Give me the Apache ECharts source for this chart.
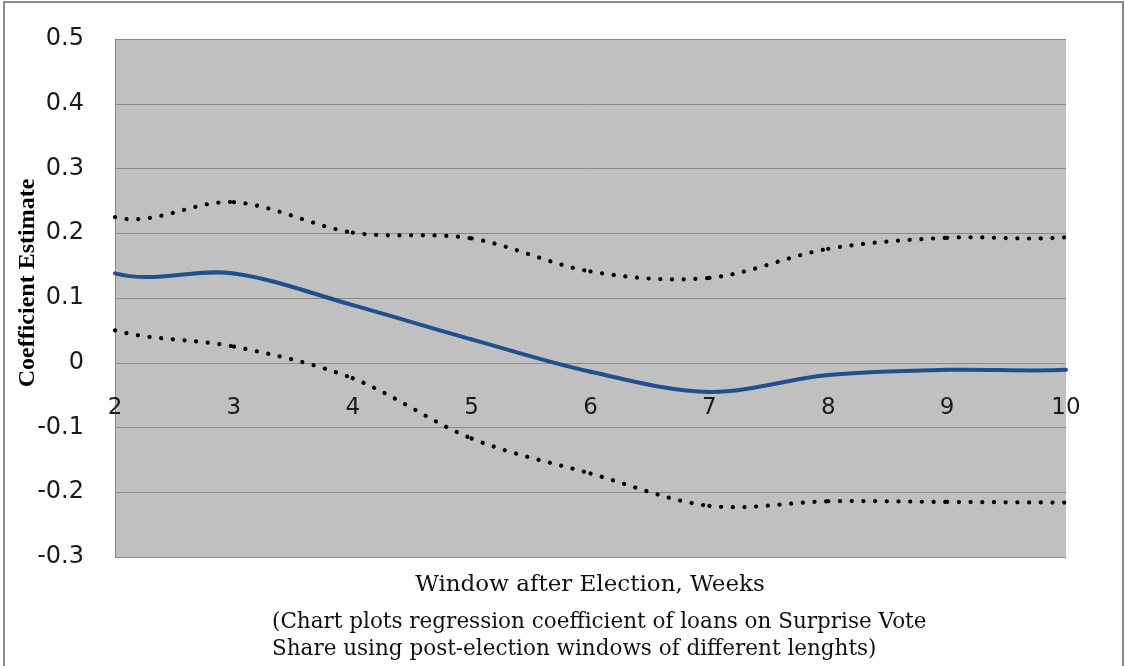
<!DOCTYPE html>
<html>
<head>
<meta charset="utf-8">
<script src="https://cdn.jsdelivr.net/npm/echarts@6/dist/echarts.min.js"></script>
<style>
  html, body { margin: 0; padding: 0; background: #ffffff; }
  #chart { width: 1125px; height: 666px; }
</style>
</head>
<body>
<div id="chart"></div>
<script>
// Post-election window length, in weeks
const weeks = [2, 3, 4, 5, 6, 7, 8, 9, 10];
// Regression coefficient of loans on surprise vote share
const estimate = [0.138, 0.138, 0.089, 0.036, -0.014, -0.045, -0.019, -0.011, -0.011];
// Upper and lower confidence bounds
const upperBound = [0.225, 0.248, 0.201, 0.192, 0.141, 0.131, 0.176, 0.193, 0.194];
const lowerBound = [0.050, 0.025, -0.024, -0.117, -0.171, -0.221, -0.214, -0.215, -0.216];
// Vertical axis ticks
const yTicks = [-0.3, -0.2, -0.1, 0, 0.1, 0.2, 0.3, 0.4, 0.5];

const yTitle = 'Coefficient Estimate';
const xTitle = 'Window after Election, Weeks';
const noteLines = [
  '(Chart plots regression coefficient of loans on Surprise Vote',
  'Share using post-election windows of different lenghts)'
];

const pairs = (ys) => weeks.map((w, i) => [w, ys[i]]);

// Tangent (slope per week) at each point: central differences inside,
// extrapolated from the neighbouring tangent at both ends.
function tangents(xs, ys) {
  const n = xs.length;
  const m = new Array(n);
  for (let i = 1; i < n - 1; i++) {
    m[i] = (ys[i + 1] - ys[i - 1]) / (xs[i + 1] - xs[i - 1]);
  }
  const s0 = (ys[1] - ys[0]) / (xs[1] - xs[0]);
  const sN = (ys[n - 1] - ys[n - 2]) / (xs[n - 1] - xs[n - 2]);
  m[0] = 2 * m[1] - s0;
  m[n - 1] = 2 * m[n - 2] - sN;
  return m;
}

// Each data item draws the smoothed segment from its point to the next one,
// placed through the cartesian axes with api.coord.
function smoothSegments(ys, style) {
  const m = tangents(weeks, ys);
  return function (params, api) {
    const i = params.dataIndex;
    if (i >= weeks.length - 1) return null;
    const x0 = weeks[i], x1 = weeks[i + 1];
    const h = (x1 - x0) / 3;
    const p0 = api.coord([x0, ys[i]]);
    const p1 = api.coord([x1, ys[i + 1]]);
    const c0 = api.coord([x0 + h, ys[i] + m[i] * h]);
    const c1 = api.coord([x1 - h, ys[i + 1] - m[i + 1] * h]);
    return {
      type: 'bezierCurve',
      shape: {
        x1: p0[0], y1: p0[1], x2: p1[0], y2: p1[1],
        cpx1: c0[0], cpy1: c0[1], cpx2: c1[0], cpy2: c1[1]
      },
      style: Object.assign({ fill: null }, style)
    };
  };
}

const dottedStyle = { stroke: '#000000', lineWidth: 4.2, lineDash: [0.1, 11.6], lineCap: 'round' };
const solidStyle = { stroke: '#214f8b', lineWidth: 4, lineCap: 'round' };

const chart = echarts.init(document.getElementById('chart'), null, { renderer: 'canvas' });

chart.setOption({
  animation: false,
  backgroundColor: '#ffffff',
  grid: {
    left: 115, right: 59, top: 39, bottom: 109,
    show: true,
    backgroundColor: '#c0c0c0',
    borderWidth: 0
  },
  xAxis: {
    type: 'value',
    min: weeks[0],
    max: weeks[weeks.length - 1],
    interval: 1,
    axisLine: { show: false, onZero: false },
    axisTick: { show: false },
    splitLine: { show: false },
    axisLabel: {
      margin: -160,
      showMinLabel: true,
      showMaxLabel: true,
      color: '#1a1a1a',
      fontFamily: 'DejaVu Sans',
      fontSize: 23
    }
  },
  yAxis: {
    type: 'value',
    min: yTicks[0],
    max: yTicks[yTicks.length - 1],
    interval: 0.1,
    axisLine: { show: true, onZero: false, lineStyle: { color: '#8a8a8a', width: 1 } },
    axisTick: { show: false },
    splitLine: { show: true, lineStyle: { color: '#8a8a8a', width: 1 } },
    axisLabel: {
      margin: 31,
      color: '#1a1a1a',
      fontFamily: 'DejaVu Sans',
      fontSize: 24,
      formatter: (v) => {
        const r = Math.round(v * 10) / 10;
        return r === 0 ? '0' : String(r);
      }
    }
  },
  graphic: [
    {
      type: 'rect',
      silent: true,
      shape: { x: 4, y: 2, width: 1119, height: 700 },
      style: { fill: 'none', stroke: '#8a8a8a', lineWidth: 2 }
    },
    {
      type: 'text',
      x: 28, y: 283,
      rotation: Math.PI / 2,
      style: {
        text: yTitle,
        fontFamily: 'Liberation Serif',
        fontWeight: 'bold',
        fontSize: 24,
        fill: '#000000',
        align: 'center',
        verticalAlign: 'middle'
      }
    },
    {
      type: 'text',
      x: 590, y: 585,
      style: {
        text: xTitle,
        fontFamily: 'DejaVu Serif',
        fontSize: 23,
        fill: '#111111',
        align: 'center',
        verticalAlign: 'middle'
      }
    },
    {
      type: 'text',
      x: 272, y: 622,
      style: {
        text: noteLines[0],
        fontFamily: 'DejaVu Serif',
        fontSize: 21.5,
        fill: '#111111',
        align: 'left',
        verticalAlign: 'middle'
      }
    },
    {
      type: 'text',
      x: 272, y: 649,
      style: {
        text: noteLines[1],
        fontFamily: 'DejaVu Serif',
        fontSize: 21.5,
        fill: '#111111',
        align: 'left',
        verticalAlign: 'middle'
      }
    }
  ],
  series: [
    {
      name: 'Upper bound',
      type: 'custom',
      data: pairs(upperBound),
      encode: { x: 0, y: 1 },
      renderItem: smoothSegments(upperBound, dottedStyle),
      z: 3
    },
    {
      name: 'Lower bound',
      type: 'custom',
      data: pairs(lowerBound),
      encode: { x: 0, y: 1 },
      renderItem: smoothSegments(lowerBound, dottedStyle),
      z: 3
    },
    {
      name: 'Estimate',
      type: 'custom',
      data: pairs(estimate),
      encode: { x: 0, y: 1 },
      renderItem: smoothSegments(estimate, solidStyle),
      z: 4
    }
  ]
});
</script>
</body>
</html>
